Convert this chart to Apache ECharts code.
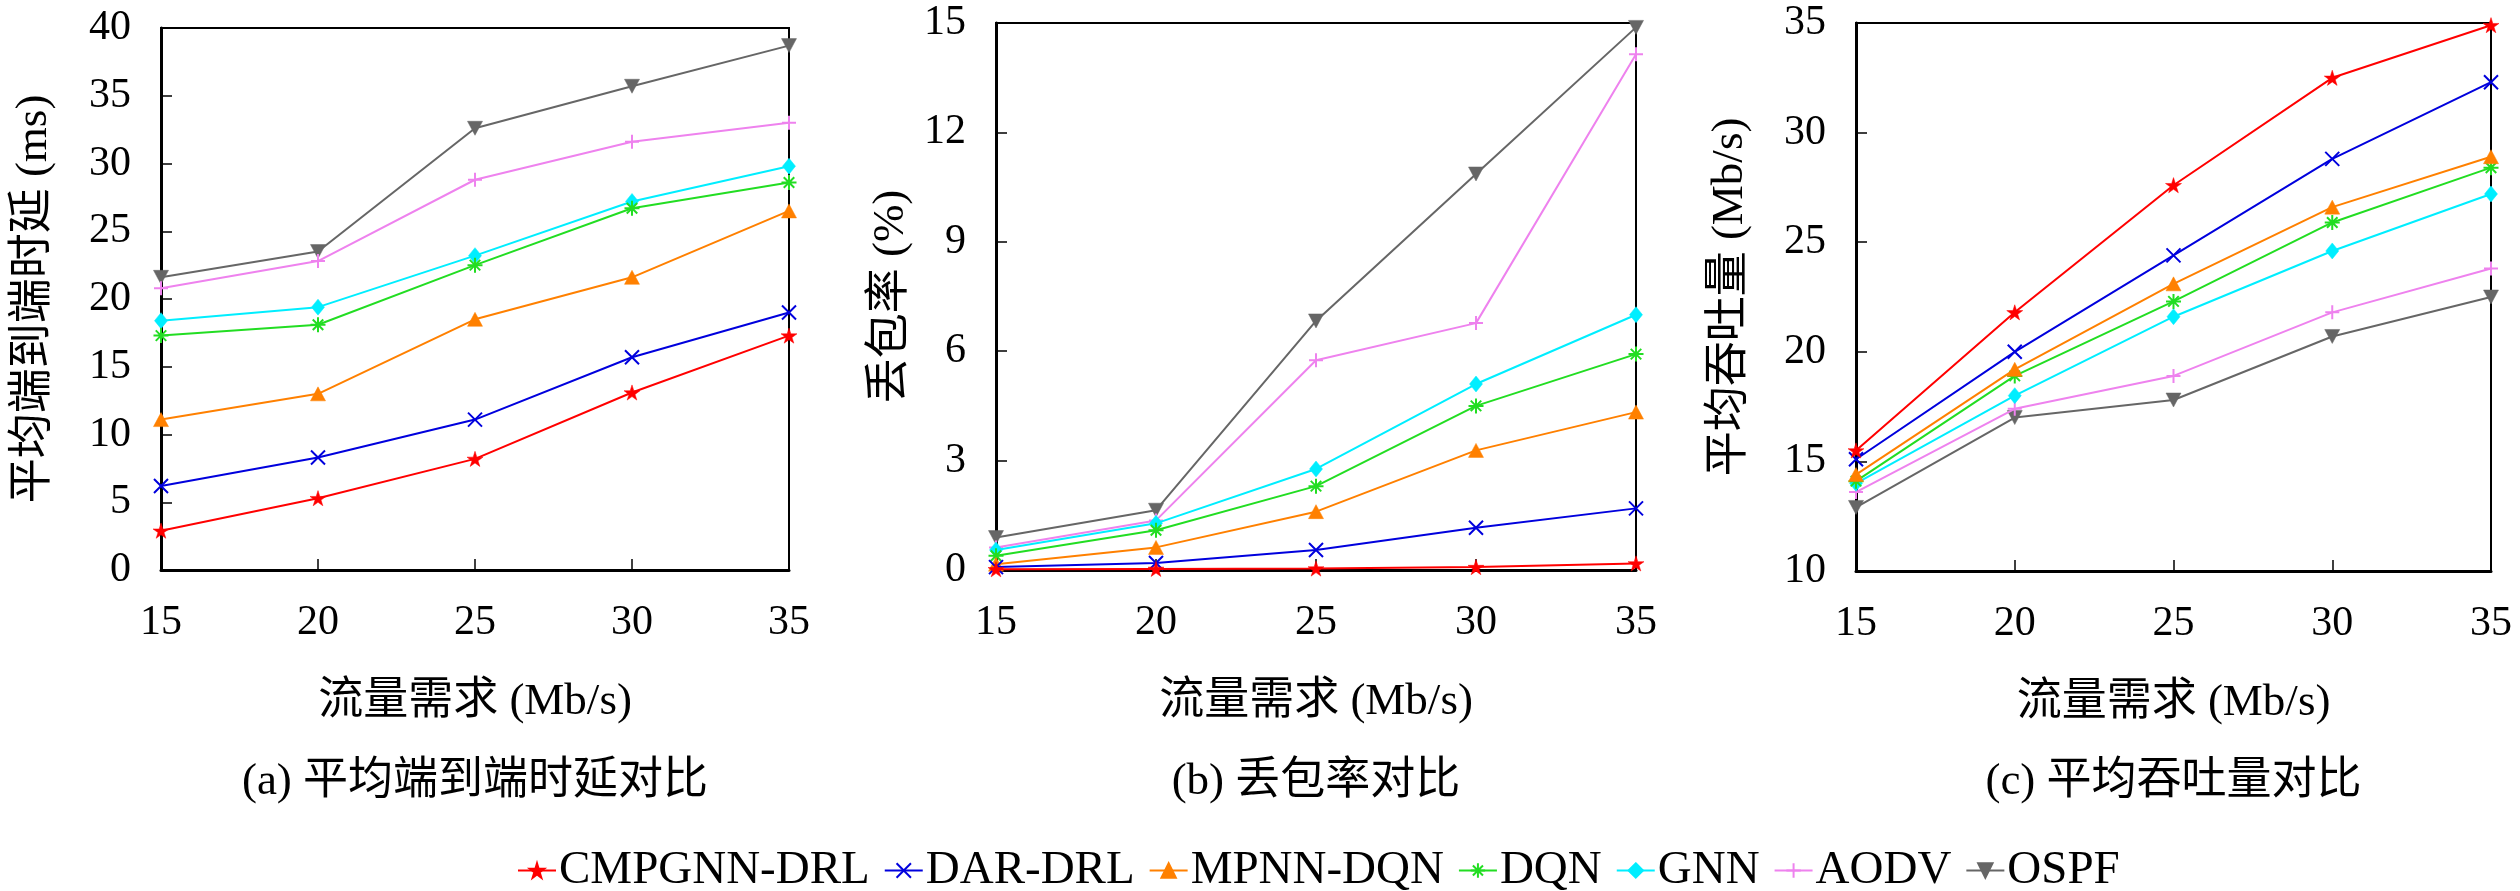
<!DOCTYPE html>
<html>
<head>
<meta charset="utf-8">
<script src="https://cdn.jsdelivr.net/npm/echarts@6/dist/echarts.min.js"></script>
<style>
html,body{margin:0;padding:0;background:#fff;}
#chart{width:2520px;height:891px;}
</style>
</head>
<body>
<div id="chart"></div>
<script>
// ---- data ----
const traffic = [15, 20, 25, 30, 35];
const seriesNames = ['CMPGNN-DRL', 'DAR-DRL', 'MPNN-DQN', 'DQN', 'GNN', 'AODV', 'OSPF'];

// (a) average end-to-end delay (ms)
const delayCMPGNN = [2.9, 5.3, 8.2, 13.1, 17.3];
const delayDAR    = [6.2, 8.3, 11.1, 15.7, 19.0];
const delayMPNN   = [11.1, 13.0, 18.5, 21.6, 26.5];
const delayDQN    = [17.3, 18.1, 22.5, 26.7, 28.6];
const delayGNN    = [18.4, 19.4, 23.2, 27.2, 29.8];
const delayAODV   = [20.8, 22.8, 28.8, 31.6, 33.0];
const delayOSPF   = [21.6, 23.5, 32.6, 35.7, 38.7];

// (b) packet loss rate (%)
const lossCMPGNN = [0.02, 0.03, 0.04, 0.08, 0.18];
const lossDAR    = [0.08, 0.19, 0.55, 1.16, 1.69];
const lossMPNN   = [0.16, 0.62, 1.6, 3.28, 4.33];
const lossDQN    = [0.39, 1.09, 2.3, 4.5, 5.92];
const lossGNN    = [0.55, 1.28, 2.77, 5.1, 7.0];
const lossAODV   = [0.62, 1.36, 5.75, 6.77, 14.14];
const lossOSPF   = [0.89, 1.64, 6.83, 10.86, 14.88];

// (c) average throughput (Mb/s)
const thrCMPGNN = [15.5, 21.8, 27.6, 32.5, 34.9];
const thrDAR    = [15.1, 20.0, 24.4, 28.8, 32.3];
const thrMPNN   = [14.4, 19.2, 23.1, 26.6, 28.9];
const thrDQN    = [14.1, 18.9, 22.3, 25.9, 28.4];
const thrGNN    = [14.0, 18.0, 21.6, 24.6, 27.2];
const thrAODV   = [13.6, 17.4, 18.9, 21.8, 23.8];
const thrOSPF   = [12.9, 17.0, 17.8, 20.7, 22.5];

const yTicksA = [0, 40, 5];
const yTicksB = [0, 15, 3];
const yTicksC = [10, 35, 5];

const xTitle = '流量需求 (Mb/s)';
const yTitles = ['平均端到端时延 (ms)', '丢包率 (%)', '平均吞吐量 (Mb/s)'];
const subTitles = ['(a) 平均端到端时延对比', '(b) 丢包率对比', '(c) 平均吞吐量对比'];

// ---- styles ----
const FONT = '"Liberation Serif", "Noto Sans CJK SC", serif';
const colors = ['#ff0000', '#0000dd', '#ff8000', '#22dd22', '#00eeff', '#ee82ee', '#666666'];
const symbols = [
  'path://M50,0 L61,35 L98,35 L68,57 L79,91 L50,70 L21,91 L32,57 L2,35 L39,35 Z',
  'path://M0,0L10,10M10,0L0,10',
  'triangle',
  'path://M5,0L5,10M0,5L10,5M1.5,1.5L8.5,8.5M8.5,1.5L1.5,8.5',
  'diamond',
  'path://M5,0L5,10M0,5L10,5',
  'triangle'
];
const symbolSizes = [[16, 16], [14, 14], [15, 14], [15, 15], [13, 16], [14, 14], [15, 14]];
const symbolRot = [0, 0, 0, 0, 0, 0, 180];
const strokeOnly = [false, true, false, true, false, true, false];

const dataA = [delayCMPGNN, delayDAR, delayMPNN, delayDQN, delayGNN, delayAODV, delayOSPF];
const dataB = [lossCMPGNN, lossDAR, lossMPNN, lossDQN, lossGNN, lossAODV, lossOSPF];
const dataC = [thrCMPGNN, thrDAR, thrMPNN, thrDQN, thrGNN, thrAODV, thrOSPF];

const grids = [
  {left: 161, top: 28, width: 628, height: 542},
  {left: 996, top: 23, width: 640, height: 547},
  {left: 1856, top: 23, width: 635, height: 548}
];
const yNameGaps = [104, 82, 103];
const yTicks = [yTicksA, yTicksB, yTicksC];

const option = {
  backgroundColor: '#fff',
  animation: false,
  textStyle: {fontFamily: FONT},
  grid: grids.map(g => Object.assign({show: true, borderColor: '#000', borderWidth: 2, backgroundColor: 'transparent'}, g)),
  title: subTitles.map((t, i) => ({
    text: t,
    left: grids[i].left + grids[i].width / 2,
    top: 760,
    textAlign: 'center',
    padding: 0,
    textStyle: {fontFamily: FONT, fontSize: 45, fontWeight: 'normal', color: '#000'}
  })),
  legend: {
    data: seriesNames,
    left: 512,
    top: 842,
    itemWidth: 38,
    itemHeight: 18,
    itemGap: 14,
    textStyle: {fontFamily: FONT, fontSize: 47, color: '#000', padding: [0, 0, 0, -2]}
  },
  xAxis: grids.map((g, i) => ({
    type: 'value', gridIndex: i, min: 15, max: 35, interval: 5,
    name: xTitle, nameLocation: 'middle', nameGap: 110,
    nameTextStyle: {fontFamily: FONT, fontSize: 45, color: '#000'},
    axisLine: {show: true, lineStyle: {color: '#000', width: 3}},
    axisTick: {show: true, inside: true, length: 11, lineStyle: {color: '#000', width: 1.5}},
    axisLabel: {fontFamily: FONT, fontSize: 42, color: '#000', margin: 32},
    splitLine: {show: false}
  })),
  yAxis: grids.map((g, i) => ({
    type: 'value', gridIndex: i, min: yTicks[i][0], max: yTicks[i][1], interval: yTicks[i][2],
    name: yTitles[i], nameLocation: 'middle', nameGap: yNameGaps[i], nameRotate: 90,
    nameTextStyle: {fontFamily: FONT, fontSize: 45, color: '#000'},
    axisLine: {show: true, lineStyle: {color: '#000', width: 3}},
    axisTick: {show: true, inside: true, length: 11, lineStyle: {color: '#000', width: 1.5}},
    axisLabel: {fontFamily: FONT, fontSize: 42, color: '#000', margin: 30},
    splitLine: {show: false}
  })),
  series: []
};

[dataA, dataB, dataC].forEach((panel, p) => {
  panel.forEach((vals, s) => {
    option.series.push({
      name: seriesNames[s],
      type: 'line',
      xAxisIndex: p, yAxisIndex: p,
      data: traffic.map((x, k) => [x, vals[k]]),
      symbol: symbols[s],
      symbolSize: symbolSizes[s],
      symbolRotate: symbolRot[s],
      symbolKeepAspect: true,
      showAllSymbol: true,
      clip: false,
      lineStyle: {color: colors[s], width: 2},
      itemStyle: {
        color: strokeOnly[s] ? 'transparent' : colors[s],
        borderColor: colors[s],
        borderWidth: strokeOnly[s] ? 2 : 0.5
      },
      emphasis: {disabled: true},
      z: 3 + (6 - s)
    });
  });
});

const chart = echarts.init(document.getElementById('chart'), null, {renderer: 'canvas'});
chart.setOption(option);
</script>
</body>
</html>
